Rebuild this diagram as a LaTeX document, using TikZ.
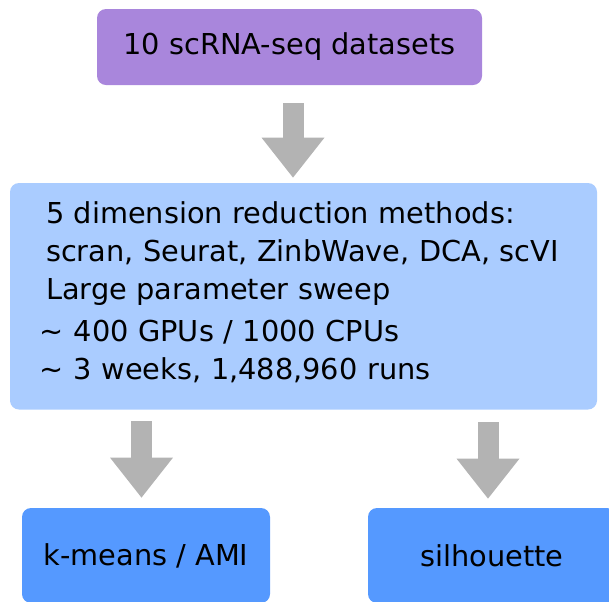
\documentclass[tikz,border=0pt]{standalone}
\usepackage{fontspec}
\setmainfont{DejaVu Sans}
\usetikzlibrary{arrows.meta}
\definecolor{datapurple}{HTML}{A986DC}
\definecolor{methodblue}{HTML}{AACCFF}
\definecolor{metricblue}{HTML}{5599FF}
\definecolor{arrowgray}{HTML}{B3B3B3}

\begin{document}
\begin{tikzpicture}[x=0.5pt,y=-0.5pt,
  font=\fontsize{14.4pt}{19pt}\selectfont,
  box/.style={rounded corners=4.5pt,inner sep=0pt},
  metric/.style={box,fill=metricblue,minimum width=124pt,minimum height=47.5pt},
  flow/.style={draw=arrowgray,line width=10.5pt,
    -{Triangle[length=20pt,width=31.5pt,line width=0pt]}}]
  \useasboundingbox (0,0) rectangle (609,601);
  \node[box,fill=datapurple,minimum width=192.5pt,minimum height=38pt]
    (datasets) at (289.5,47) {10 scRNA-seq datasets};
  \node[box,fill=methodblue,minimum width=293.5pt,minimum height=113.25pt,
    text width=257.5pt,align=left,inner xsep=18pt] (dimred) at (303.5,296.25)
    {5 dimension reduction methods:\\
     scran, Seurat, ZinbWave, DCA, scVI\\
     Large parameter sweep\\[2pt]
     \hspace*{-3pt}\textasciitilde{} 400 GPUs / 1000 CPUs\\
     \hspace*{-3pt}\textasciitilde{} 3 weeks, 1,488,960 runs\rule[-6.2pt]{0pt}{0pt}};
  \node[metric] (kmeans) at (146,555.5) {k-means / AMI};
  \node[metric] (silhouette) at (492,555.5) {silhouette};
  % big gray arrows
  \draw[flow,shorten <=9pt,shorten >=2.5pt]
    ([xshift=1.75pt]datasets.south) -- ([xshift=1.75pt]datasets.south |- dimred.north);
  \draw[flow,shorten <=5.75pt,shorten >=5pt]
    ([xshift=-2.25pt]kmeans.north |- dimred.south) -- ([xshift=-2.25pt]kmeans.north);
  \draw[flow,shorten <=6.25pt,shorten >=4.5pt]
    ([xshift=-2pt]silhouette.north |- dimred.south) -- ([xshift=-2pt]silhouette.north);
\end{tikzpicture}
\end{document}
